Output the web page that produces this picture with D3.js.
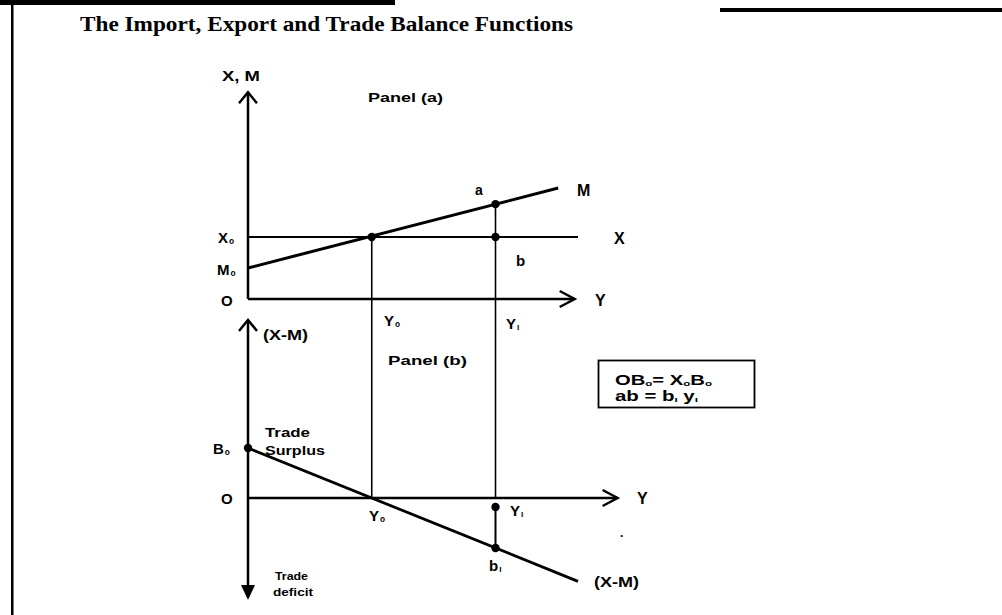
<!DOCTYPE html>
<html><head><meta charset="utf-8">
<script src="https://cdn.jsdelivr.net/npm/d3@7"></script>
<style>
html,body{margin:0;padding:0;background:#fff;}
svg{display:block;}
text{font-family:"Liberation Sans",Arial,sans-serif;font-weight:bold;fill:#000;}
</style></head>
<body>
<script>
// ---------- data ----------
const title = "The Import, Export and Trade Balance Functions";
const incomeLabels = ["Y₀", "Y₁"];
const incomeValues = [3.75, 7.5];
const exportLine = [[0, 3], [10, 3]];          // X (constant exports)
const importLine = [[0, 1.5], [9.4, 5.37]];    // M (imports rise with income)
const balanceLine = [[0, 1.5], [10, -2.5]];    // (X-M)
const panelAPoints = [[3.75, 3], [7.5, 4.59], [7.5, 3]];       // intersection, a, b
const panelBPoints = [[0, 1.5], [7.5, -0.27], [7.5, -1.5]];    // B0, Y1, b1
const panelAAxis = {xMax: 9.9, yMax: 10};
const panelBAxis = {xMax: 11.2, yMax: 5.34, yMin: -3.06};

// ---------- setup ----------
const W = 1002, H = 615;
const svg = d3.select("body").append("svg").attr("width", W).attr("height", H);

const xS = d3.scaleLinear().domain([0, 10]).range([248, 578]);
const yA = d3.scaleLinear().domain([0, 3]).range([299, 237]);
const yB = d3.scaleLinear().domain([0, 1.5]).range([498, 448]);

// page border decorations
svg.append("rect").attr("x", 0).attr("y", 0).attr("width", 395).attr("height", 5).attr("fill", "#000");
svg.append("rect").attr("x", 720).attr("y", 8).attr("width", 282).attr("height", 4).attr("fill", "#000");
svg.append("rect").attr("x", 11).attr("y", 0).attr("width", 2.5).attr("height", H).attr("fill", "#000");

// title
svg.append("text").attr("x", 80).attr("y", 31)
  .style("font-family", '"Liberation Serif","Times New Roman",serif')
  .style("font-size", "20px").style("font-weight", "bold")
  .attr("textLength", 493).attr("lengthAdjust", "spacingAndGlyphs")
  .text(title);

const line = (sx, sy) => d3.line().x(d => sx(d[0])).y(d => sy(d[1]));
const g = svg.append("g");

// ---------- axes ----------
function seg(x1, y1, x2, y2, w) {
  g.append("line").attr("x1", x1).attr("y1", y1).attr("x2", x2).attr("y2", y2)
    .attr("stroke", "#000").attr("stroke-width", w);
}
function chevUp(x, y) {
  g.append("path").attr("d", `M${x-9},${y+11}L${x},${y}L${x+9},${y+11}`)
    .attr("fill", "none").attr("stroke", "#000").attr("stroke-width", 2.5);
}
function chevRight(x, y) {
  g.append("path").attr("d", `M${x-15},${y-8}L${x},${y}L${x-15},${y+8}`)
    .attr("fill", "none").attr("stroke", "#000").attr("stroke-width", 2.5);
}
// panel a
seg(xS(0), yA(0), xS(0), yA(panelAAxis.yMax), 2.5);
seg(xS(0), yA(0), xS(panelAAxis.xMax), yA(0), 2.5);
chevUp(xS(0), yA(panelAAxis.yMax));
chevRight(xS(panelAAxis.xMax), yA(0));
// panel b
seg(xS(0), yB(panelBAxis.yMax), xS(0), yB(panelBAxis.yMin) - 6, 2.5);
seg(xS(0), yB(0), xS(panelBAxis.xMax), yB(0), 2.5);
chevUp(xS(0), yB(panelBAxis.yMax));
chevRight(xS(panelBAxis.xMax), yB(0));
{
  const x = xS(0), y = yB(panelBAxis.yMin);
  g.append("path").attr("d", `M${x-7},${y-15}L${x},${y}L${x+7},${y-15}Z`).attr("fill", "#000");
}

// ---------- vertical guides ----------
seg(xS(incomeValues[0]), yA(panelAPoints[0][1]), xS(incomeValues[0]), yB(0), 1.6);
seg(xS(incomeValues[1]), yA(panelAPoints[1][1]), xS(incomeValues[1]), yB(0), 1.6);
seg(xS(panelBPoints[1][0]), yB(panelBPoints[1][1]), xS(panelBPoints[2][0]), yB(panelBPoints[2][1]), 2);

// ---------- function lines ----------
g.append("path").attr("d", line(xS, yA)(exportLine)).attr("fill", "none").attr("stroke", "#000").attr("stroke-width", 2);
g.append("path").attr("d", line(xS, yA)(importLine)).attr("fill", "none").attr("stroke", "#000").attr("stroke-width", 3);
g.append("path").attr("d", line(xS, yB)(balanceLine)).attr("fill", "none").attr("stroke", "#000").attr("stroke-width", 2.8);

// ---------- points ----------
g.selectAll("circle.pa").data(panelAPoints).join("circle").attr("class", "pa")
  .attr("cx", d => xS(d[0])).attr("cy", d => yA(d[1])).attr("r", 4.2).attr("fill", "#000");
g.selectAll("circle.pb").data(panelBPoints).join("circle").attr("class", "pb")
  .attr("cx", d => xS(d[0])).attr("cy", d => yB(d[1])).attr("r", 4.2).attr("fill", "#000");

// ---------- labels ----------
function label(x, y, main, sub, size, opts = {}) {
  const t = svg.append("text").attr("x", x).attr("y", y)
    .style("font-size", size + "px").attr("dominant-baseline", "central");
  if (opts.len) t.attr("textLength", opts.len).attr("lengthAdjust", "spacingAndGlyphs");
  t.append("tspan").text(main);
  if (sub) t.append("tspan").attr("dx", 1).attr("dy", 4).style("font-size", (size * 0.55) + "px").text(sub);
  return t;
}
label(222, 75, "X, M", null, 15, {len: 38});
label(368, 97, "Panel (a)", null, 13, {len: 75});
label(475, 190, "a", null, 14);
label(577, 190, "M", null, 16);
label(614, 238, "X", null, 16);
label(516, 260, "b", null, 15);
label(218, 237, "X", "o", 15);
label(217, 269, "M", "o", 15);
label(221, 300, "O", null, 15);
label(595, 300, "Y", null, 16);
label(384, 320, "Y", "o", 15);
label(506, 323, "Y", "ı", 15);

label(263, 335, "(X-M)", null, 14, {len: 45});
label(388, 360, "Panel (b)", null, 13, {len: 79});
label(265, 432, "Trade", null, 13, {len: 45});
label(265, 450, "Surplus", null, 13, {len: 60});
label(213, 448, "B", "o", 15);
label(221, 498, "O", null, 15);
label(637, 498, "Y", null, 16);
label(369, 515, "Y", "o", 15);
label(510, 510, "Y", "ı", 15);
label(489, 565, "b", "ı", 15);
label(594, 582, "(X-M)", null, 14, {len: 45});
label(275, 576, "Trade", null, 11, {len: 33});
label(273, 592, "deficit", null, 11, {len: 40});
label(620, 533, ".", null, 12);

// ---------- formula box ----------
svg.append("rect").attr("x", 598.5).attr("y", 360.5).attr("width", 156).attr("height", 47)
  .attr("fill", "none").attr("stroke", "#000").attr("stroke-width", 1.8);
{
  const t1 = svg.append("text").attr("x", 615).attr("y", 380).style("font-size", "14px").attr("dominant-baseline", "central")
    .attr("textLength", 97).attr("lengthAdjust", "spacingAndGlyphs");
  t1.append("tspan").text("OB");
  t1.append("tspan").attr("dy", 3).style("font-size", "8px").text("o");
  t1.append("tspan").attr("dy", -3).text("= X");
  t1.append("tspan").attr("dy", 3).style("font-size", "8px").text("o");
  t1.append("tspan").attr("dy", -3).text("B");
  t1.append("tspan").attr("dy", 3).style("font-size", "8px").text("o");
  const t2 = svg.append("text").attr("x", 615).attr("y", 396).style("font-size", "14px").attr("dominant-baseline", "central")
    .attr("textLength", 83).attr("lengthAdjust", "spacingAndGlyphs");
  t2.append("tspan").text("ab = b");
  t2.append("tspan").attr("dy", 3).style("font-size", "8px").text("ı");
  t2.append("tspan").attr("dy", -3).text(" y");
  t2.append("tspan").attr("dy", 3).style("font-size", "8px").text("ı");
}
</script>
</body></html>
